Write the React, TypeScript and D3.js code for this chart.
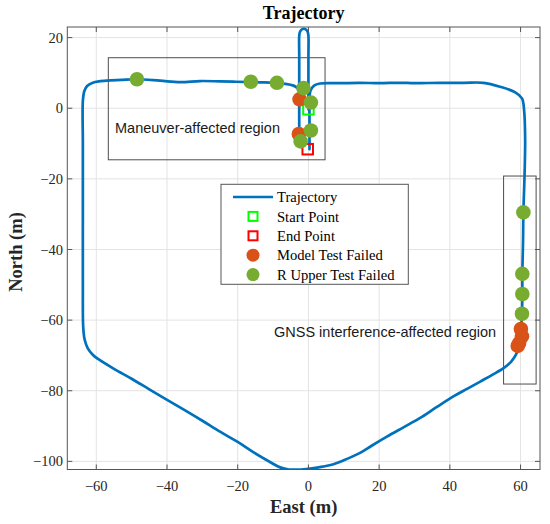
import React from "react";
import * as d3 from "d3";

// trajectory, east / north in metres
const trajEast = [
  0.0, 0.0, 0.0, 0.0, 0.0, -0.2, -0.7, -1.3, -1.9, -2.4, -2.6, -2.6, -2.6, -2.6, -2.6, -2.6, -2.6,
  -2.6, -2.6, -2.5, -3.2, -4.2, -6.5, -8.9, -12.5, -16.3, -20.5, -25.0, -30.6, -36.3, -42.0, -48.5,
  -53.0, -57.0, -60.8, -62.6, -63.4, -63.8, -63.8, -63.8, -63.8, -63.7, -63.3, -62.4, -61.0, -59.5,
  -55.0, -50.0, -45.0, -40.1, -35.0, -30.0, -25.0, -20.0, -15.6, -11.0, -8.0, -5.5, -2.0, 1.0, 4.0,
  7.1, 10.0, 14.6, 18.0, 22.2, 27.0, 31.6, 36.0, 41.0, 45.0, 48.6, 52.0, 55.2, 57.3, 58.7, 59.5,
  60.0, 60.4, 60.5, 60.5, 60.7, 60.8, 61.1, 61.3, 61.0, 60.4, 58.5, 54.2, 49.5, 44.0, 37.2, 30.0,
  25.9, 20.0, 14.6, 8.0, 3.3, 1.6, 0.6, 0.3, 0.3, 0.3, 0.3,
];
const trajNorth = [
  -0.3, 5, 10, 15, 20.5, 21.6, 22.3, 22.5, 22.3, 21.6, 20.5, 15, 10, 5, 0, -5, -9.5,
  -5, 0, 4.5, 5.8, 6.4, 6.9, 7.1, 7.3, 7.4, 7.5, 7.6, 7.7, 7.4, 7.8, 8.2,
  8.0, 7.8, 7.3, 6.3, 4.8, 2, -10, -30, -50, -62, -65.5, -68, -69.8, -71,
  -73.8, -76.6, -79.6, -82.5, -85.5, -88.5, -91.6, -94.5, -97.4, -100.1, -101.7, -102.3, -102.3, -102.0, -101.5,
  -100.8, -99.7, -97.6, -95.5, -93.0, -90.3, -87.7, -84.8, -81.6, -79.4, -77.4, -75.5, -73.6, -71.8, -69.8, -67.5,
  -64, -58, -52.6, -47, -38, -29.5, -20, -9, -0.5, 2.8, 4.5, 6.1, 7.2, 7.2, 7.2, 7.1,
  7.2, 7.1, 7.2, 7.1, 7.0, 6.4, 5, 3, -2, -8, -11.6,
];

const startPoint = [0.0, -0.3];
const endPoint = [-0.2, -11.6];

const modelFailEast = [-2.5, -2.7, 60.1, 60.4, 59.6, 59.2];
const modelFailNorth = [2.5, -7.3, -62.5, -64.6, -66.5, -67.3];

const rUpperFailEast = [-48.5, -16.3, -8.9, -1.4, 0.7, 0.7, -2.2, 60.8, 60.5, 60.5, 60.4];
const rUpperFailNorth = [8.2, 7.5, 7.2, 5.7, 1.6, -6.3, -9.4, -29.5, -46.9, -52.6, -58.2];

// annotated regions: [east min, east max, north min, north max]
const regionNames = ["Maneuver-affected region", "GNSS interference-affected region"];
const regionBoxes = [
  [-56.6, 4.7, -14.6, 14.3],
  [55.2, 64.4, -78.1, -19.2],
];

const xTicks = [-60, -40, -20, 0, 20, 40, 60];
const yTicks = [-100, -80, -60, -40, -20, 0, 20];

const legendLabels = ["Trajectory", "Start Point", "End Point", "Model Test Failed", "R Upper Test Failed"];

const BLUE = "#0072BD";
const ORANGE = "#D95319";
const GREEN = "#77AC30";
const SERIF = "'Liberation Serif', 'Times New Roman', serif";
const SANS = "'Liberation Sans', Arial, sans-serif";

const W = 550;
const H = 524;
const left = 67.3;
const right = 540;
const top = 27;
const bottom = 469.5;

export default function App() {
  const x = d3.scaleLinear().domain([-68.2, 65.5]).range([left, right]);
  const y = d3.scaleLinear().domain([-102.3, 23]).range([bottom, top]);
  const fmt = d3.format("d");

  const pts: [number, number][] = trajEast.map((e, i) => [e, trajNorth[i]]);
  const line = d3
    .line<[number, number]>()
    .x((d) => x(d[0]))
    .y((d) => y(d[1]))
    .curve(d3.curveCatmullRom.alpha(0.5));

  const r = 7.3;
  const sq = 10.5;
  const tick = 5;
  const cx = (left + right) / 2;

  // legend layout
  const lgX = 221;
  const lgY = 184.3;
  const lgW = 187.3;
  const lgH = 100;
  const rowY = (i: number) => 197 + i * 19.4;
  const symX = 253;

  return (
    <svg
      width={W}
      height={H}
      style={{ position: "absolute", left: 0, top: 0, background: "#fff" }}
    >
      <rect x={0} y={0} width={W} height={H} fill="#fff" />
      <defs>
        <clipPath id="plot">
          <rect x={left} y={top} width={right - left} height={bottom - top} />
        </clipPath>
      </defs>

      {/* grid */}
      {xTicks.map((t) => (
        <line key={"gx" + t} x1={x(t)} x2={x(t)} y1={top} y2={bottom} stroke="#e3e3e3" strokeWidth={1} />
      ))}
      {yTicks.map((t) => (
        <line key={"gy" + t} x1={left} x2={right} y1={y(t)} y2={y(t)} stroke="#e3e3e3" strokeWidth={1} />
      ))}

      {/* region boxes */}
      {regionBoxes.map((b, i) => (
        <rect
          key={"rb" + i}
          x={x(b[0])}
          y={y(b[3])}
          width={x(b[1]) - x(b[0])}
          height={y(b[2]) - y(b[3])}
          fill="none"
          stroke="#4d4d4d"
          strokeWidth={1}
        />
      ))}

      <g clipPath="url(#plot)">
        <path d={line(pts) || ""} fill="none" stroke={BLUE} strokeWidth={2.7} strokeLinejoin="round" strokeLinecap="round" />

        <rect x={x(startPoint[0]) - sq / 2} y={y(startPoint[1]) - sq / 2} width={sq} height={sq} fill="none" stroke="#00ff00" strokeWidth={2} />
        <rect x={x(endPoint[0]) - sq / 2} y={y(endPoint[1]) - sq / 2} width={sq} height={sq} fill="none" stroke="#ff0000" strokeWidth={2} />

        {modelFailEast.map((e, i) => (
          <circle key={"m" + i} cx={x(e)} cy={y(modelFailNorth[i])} r={r} fill={ORANGE} />
        ))}
        {rUpperFailEast.map((e, i) => (
          <circle key={"u" + i} cx={x(e)} cy={y(rUpperFailNorth[i])} r={r} fill={GREEN} />
        ))}
      </g>

      {/* region labels */}
      <text x={115} y={133} fontFamily={SANS} fontSize={14.5} fill="#1a1a1a">
        {regionNames[0]}
      </text>
      <text x={274} y={337} fontFamily={SANS} fontSize={14.5} fill="#1a1a1a">
        {regionNames[1]}
      </text>

      {/* axes box */}
      <rect x={left} y={top} width={right - left} height={bottom - top} fill="none" stroke="#555" strokeWidth={1} />
      {xTicks.map((t) => (
        <g key={"tx" + t}>
          <line x1={x(t)} x2={x(t)} y1={bottom} y2={bottom - tick} stroke="#555" />
          <line x1={x(t)} x2={x(t)} y1={top} y2={top + tick} stroke="#555" />
          <text x={x(t)} y={491} textAnchor="middle" fontFamily={SERIF} fontSize={14.5} fill="#262626">
            {fmt(t)}
          </text>
        </g>
      ))}
      {yTicks.map((t) => (
        <g key={"ty" + t}>
          <line x1={left} x2={left + tick} y1={y(t)} y2={y(t)} stroke="#555" />
          <line x1={right} x2={right - tick} y1={y(t)} y2={y(t)} stroke="#555" />
          <text x={63} y={y(t)} dy="0.35em" textAnchor="end" fontFamily={SERIF} fontSize={14.5} fill="#262626">
            {fmt(t)}
          </text>
        </g>
      ))}

      {/* titles */}
      <text x={cx} y={19} textAnchor="middle" fontFamily={SERIF} fontWeight="bold" fontSize={18} fill="#000">
        Trajectory
      </text>
      <text x={cx} y={513} textAnchor="middle" fontFamily={SERIF} fontWeight="bold" fontSize={18.5} fill="#262626">
        East (m)
      </text>
      <text
        transform={`translate(22, 252) rotate(-90)`}
        textAnchor="middle"
        fontFamily={SERIF}
        fontWeight="bold"
        fontSize={18.5}
        fill="#262626"
      >
        North (m)
      </text>

      {/* legend */}
      <rect x={lgX} y={lgY} width={lgW} height={lgH} fill="#fff" stroke="#555" strokeWidth={1} />
      <line x1={233} x2={273} y1={rowY(0)} y2={rowY(0)} stroke={BLUE} strokeWidth={2.7} />
      <rect x={symX - 4.5} y={rowY(1) - 4.5} width={9} height={9} fill="none" stroke="#00ff00" strokeWidth={2} />
      <rect x={symX - 4.5} y={rowY(2) - 4.5} width={9} height={9} fill="none" stroke="#ff0000" strokeWidth={2} />
      <circle cx={symX} cy={rowY(3)} r={6.5} fill={ORANGE} />
      <circle cx={symX} cy={rowY(4)} r={6.5} fill={GREEN} />
      {legendLabels.map((l, i) => (
        <text key={l} x={277} y={rowY(i)} dy="0.35em" fontFamily={SERIF} fontSize={14.6} fill="#000">
          {l}
        </text>
      ))}
    </svg>
  );
}
